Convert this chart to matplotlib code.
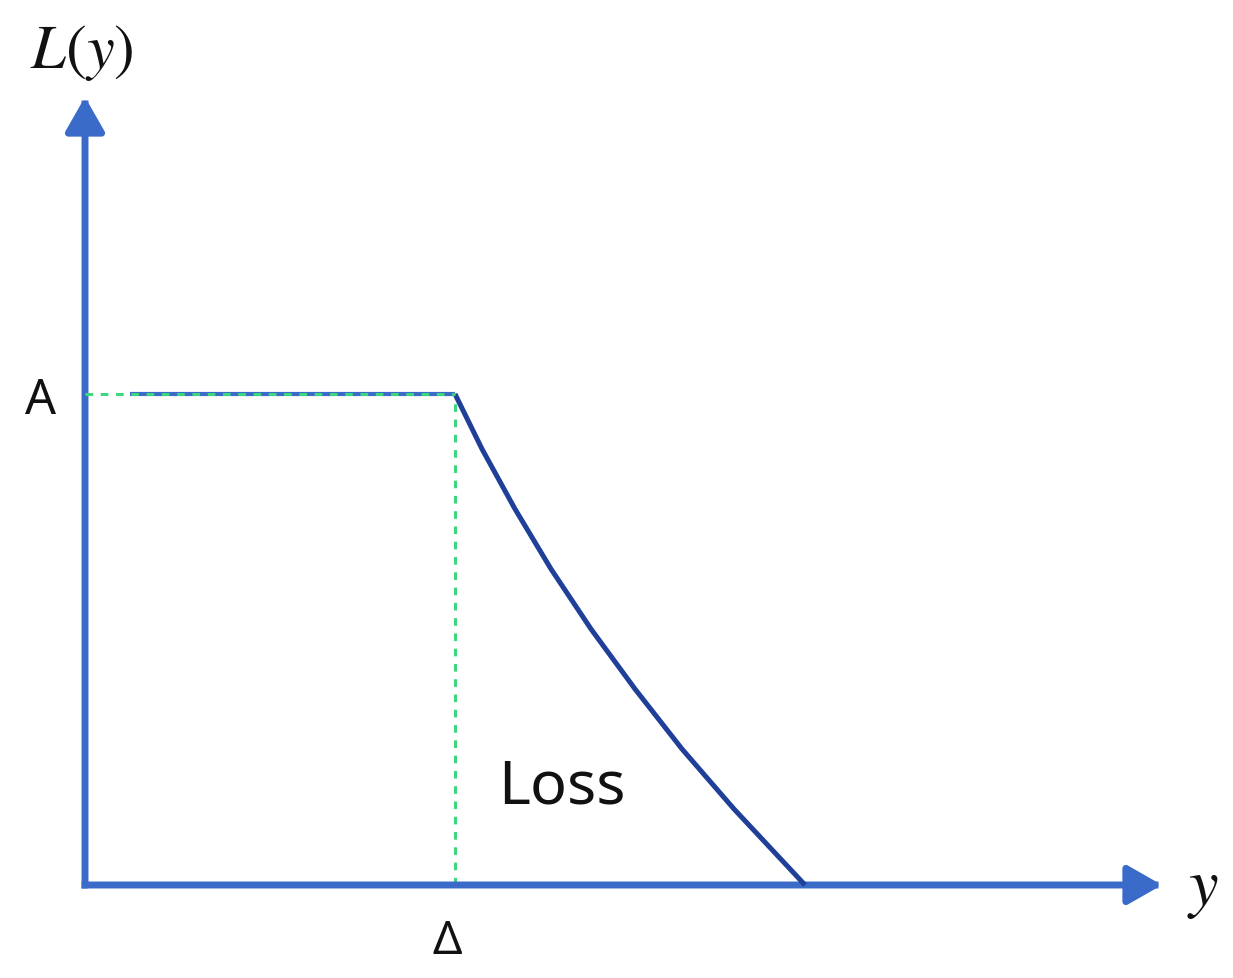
import matplotlib
matplotlib.use("Agg")
import matplotlib.pyplot as plt
import numpy as np

# Conceptual values (units measured from the origin)
x_axis_end = 1077
y_axis_end = 788
delta = 370
level_A = 491
# flat part of L(y)
flat_x = [45, 370]
flat_y = [491, 491]
# decreasing part of L(y)
curve_x = [370, 397, 430, 466, 506, 550, 597, 649, 720]
curve_y = [491, 436, 376, 316, 256, 196, 136, 76, 0]

axis_color = "#3a6bc9"
curve_color = "#1f3f99"
guide_color = "#3dd67f"

fig = plt.figure(figsize=(12.33, 9.79), dpi=100)
ax = fig.add_axes([0, 0, 1, 1])
ax.set_xlim(-85, 1233 - 85)
ax.set_ylim(886 - 979, 886)
ax.axis("off")

arrow_kw = dict(arrowstyle="-|>,head_length=1.05,head_width=0.6", lw=5,
                color=axis_color, shrinkA=0, shrinkB=0, mutation_scale=20,
                capstyle="projecting", joinstyle="round")
ax.annotate("", xy=(0, y_axis_end), xytext=(0, 0), arrowprops=arrow_kw)
ax.annotate("", xy=(x_axis_end, 0), xytext=(0, 0), arrowprops=arrow_kw)

# flat segment (light blue) and curve
ax.plot(flat_x, flat_y, color=axis_color, lw=3, solid_capstyle="butt", zorder=3)
ax.plot(curve_x, curve_y, color=curve_color, lw=3.6, solid_joinstyle="round",
        solid_capstyle="butt", zorder=3)

# guide lines
ax.plot([0, delta], [level_A, level_A], color=guide_color, lw=2.2,
        linestyle=(0, (2.5, 2.5)), zorder=4)
ax.plot([delta, delta], [0, level_A], color=guide_color, lw=2.2,
        linestyle=(0, (2.5, 2.5)), zorder=2)

plt.rcParams["mathtext.fontset"] = "stix"
ax.text(-3, 833, r"$L(y)$", fontsize=45, ha="center", va="center", color="#111111")
ax.text(x_axis_end + 41, -2, r"$y$", fontsize=48, ha="center", va="center", color="#111111")
ax.text(-44, level_A - 6, "A", fontsize=35, family="Noto Sans", ha="center", va="center", color="#111111")
ax.text(delta - 8, -56, "Δ", fontsize=33, family="Noto Sans", ha="center", va="center", color="#111111")
ax.text(477, 98, "Loss", fontsize=44, family="Noto Sans", ha="center", va="center", color="#111111")

fig.savefig("out.png", dpi=100, facecolor="white")
